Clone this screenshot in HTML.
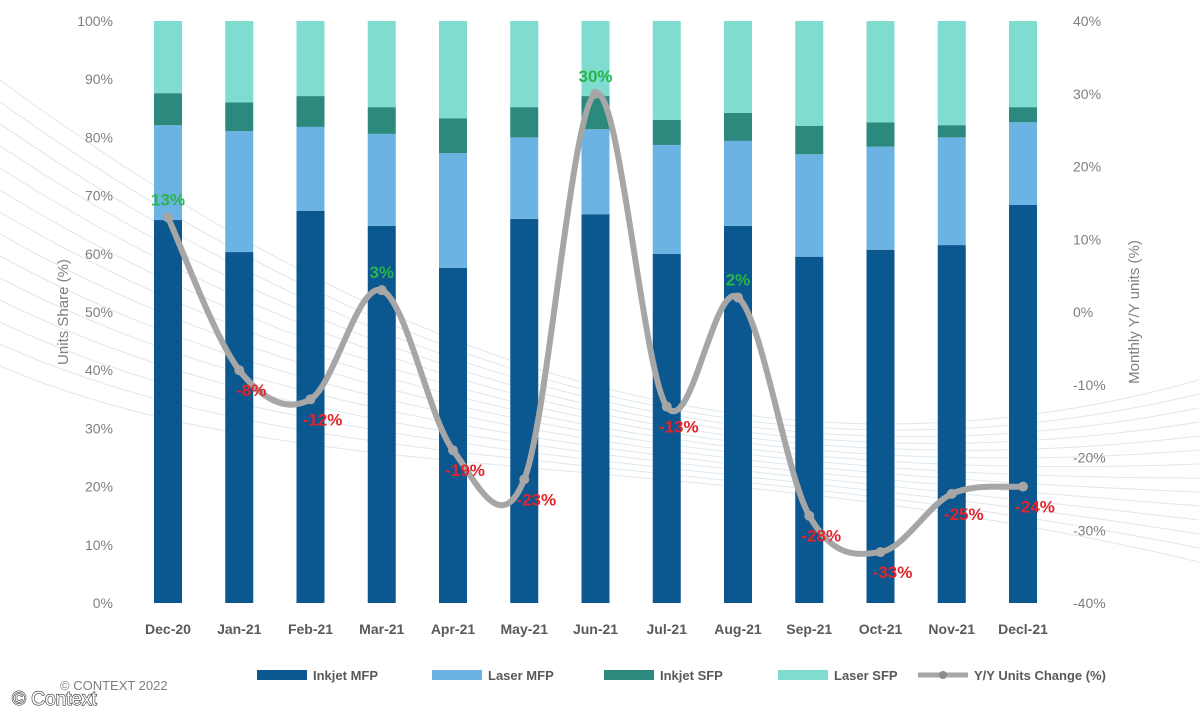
<!DOCTYPE html>
<html><head><meta charset="utf-8"><style>
body{margin:0;background:#fff;width:1199px;height:720px;overflow:hidden;font-family:"Liberation Sans",sans-serif;}
svg{display:block}
</style></head><body>
<svg id="c" width="1199" height="720">
<g id="bg"></g>
<g id="bars"></g><g id="axes"></g><g id="line"></g>
</svg>
<script>
const categories=["Dec-20","Jan-21","Feb-21","Mar-21","Apr-21","May-21","Jun-21","Jul-21","Aug-21","Sep-21","Oct-21","Nov-21","Decl-21"];
const inkjetMFP=[65.8,60.3,67.4,64.8,57.6,66.0,66.8,60.0,64.8,59.5,60.7,61.5,68.4];
const laserMFP=[16.3,20.8,14.4,15.8,19.7,14.0,14.6,18.7,14.6,17.6,17.7,18.5,14.2];
const inkjetSFP=[5.5,4.9,5.3,4.6,6.0,5.2,5.7,4.3,4.8,4.9,4.2,2.1,2.6];
const yoy=[13,-8,-12,3,-19,-23,30,-13,2,-28,-33,-25,-24];
const leftTicks=[0,10,20,30,40,50,60,70,80,90,100];
const rightTicks=[-40,-30,-20,-10,0,10,20,30,40];
const NS="http://www.w3.org/2000/svg";
function mk(p,t,a,txt){const e=document.createElementNS(NS,t);for(const k in a)e.setAttribute(k,a[k]);if(txt!==undefined)e.textContent=txt;p.appendChild(e);return e;}
const plotTop=21,plotBot=603;
const yL=v=>plotBot-(v/100)*(plotBot-plotTop);
const yR=v=>plotBot-((v+40)/80)*(plotBot-plotTop);
const xC=i=>168+i*71.25;
const bw=28;
const bg=document.getElementById('bg');
for(let k=0;k<14;k++){const pth=mk(bg,'path',{d:`M0 ${80+k*22} C 300 ${300+k*15}, 700 ${520-k*6}, 1199 ${380+k*14}`,fill:'none',stroke:'#dde8ee','stroke-width':1});

}
const bars=document.getElementById('bars');
const cols=["#0b578f","#6bb3e3","#2b8a7d","#7fdccf"];
const segNames=['inkjet-mfp','laser-mfp','inkjet-sfp','laser-sfp'];
categories.forEach((c,i)=>{
 const segs=[inkjetMFP[i],laserMFP[i],inkjetSFP[i]];segs.push(100-segs[0]-segs[1]-segs[2]);
 let acc=0;
 segs.forEach((v,j)=>{const r=mk(bars,'rect',{x:xC(i)-bw/2,y:yL(acc+v),width:bw,height:yL(acc)-yL(acc+v),fill:cols[j]});
 
 
 acc+=v;});
 const t=mk(bars,'text',{x:xC(i),y:634,'text-anchor':'middle','font-size':14,'font-weight':'bold',fill:'#595959'},c);
 
 
});
const ax=document.getElementById('axes');
leftTicks.forEach(v=>{const t=mk(ax,'text',{x:113,y:yL(v)+5,'text-anchor':'end','font-size':14,fill:'#7f7f7f'},v+'%');

});
rightTicks.forEach(v=>{const t=mk(ax,'text',{x:1073,y:yR(v)+5,'text-anchor':'start','font-size':14,fill:'#7f7f7f'},v+'%');

});
let t=mk(ax,'text',{x:0,y:0,transform:'translate(68,312) rotate(-90)','text-anchor':'middle','font-size':15,fill:'#7f7f7f'},'Units Share (%)');


t=mk(ax,'text',{x:0,y:0,transform:'translate(1139,312) rotate(-90)','text-anchor':'middle','font-size':15,fill:'#7f7f7f'},'Monthly Y/Y units (%)');


const ln=document.getElementById('line');
const pts=yoy.map((v,i)=>[xC(i),yR(v)]);
let d=`M${pts[0][0]} ${pts[0][1]}`;
for(let i=0;i<pts.length-1;i++){const p0=pts[Math.max(0,i-1)],p1=pts[i],p2=pts[i+1],p3=pts[Math.min(pts.length-1,i+2)];
 d+=` C${p1[0]+(p2[0]-p0[0])/6} ${p1[1]+(p2[1]-p0[1])/6},${p2[0]-(p3[0]-p1[0])/6} ${p2[1]-(p3[1]-p1[1])/6},${p2[0]} ${p2[1]}`;}
const path=mk(ln,'path',{d:d,fill:'none',stroke:'#a6a6a6','stroke-width':6,'stroke-linecap':'round'});


pts.forEach((p,i)=>{const c=mk(ln,'circle',{cx:p[0],cy:p[1],r:5,fill:'#a6a6a6'});
 
 
 const pos=yoy[i]>=0;
 const l=mk(ln,'text',{x:p[0]+(pos?0:12),y:pos?p[1]-12:p[1]+26,'text-anchor':'middle','font-size':17,'font-weight':'bold',fill:pos?'#2ab54a':'#e0242b'},yoy[i]+'%');
 
 });
const leg=[["Inkjet MFP",cols[0],257],["Laser MFP",cols[1],432],["Inkjet SFP",cols[2],604],["Laser SFP",cols[3],778]];
leg.forEach(L=>{const g=mk(ln,'g',{});
 
 
 mk(g,'rect',{x:L[2],y:670,width:50,height:10,fill:L[1]});
 mk(g,'text',{x:L[2]+56,y:680,'font-size':13,'font-weight':'bold',fill:'#595959'},L[0]);});
const g=mk(ln,'g',{});


mk(g,'line',{x1:918,y1:675,x2:968,y2:675,stroke:'#a6a6a6','stroke-width':5});
mk(g,'circle',{cx:943,cy:675,r:4,fill:'#8c8c8c'});
mk(g,'text',{x:974,y:680,'font-size':13,'font-weight':'bold',fill:'#595959'},'Y/Y Units Change (%)');
t=mk(ln,'text',{x:60,y:690,'font-size':13,fill:'#7f7f7f'},'© CONTEXT 2022');


t=mk(ln,'text',{x:12,y:705,'font-size':19,fill:'#fff',stroke:'#333','stroke-width':1.2,'paint-order':'stroke'},'© Context');


</script>
</body></html>
